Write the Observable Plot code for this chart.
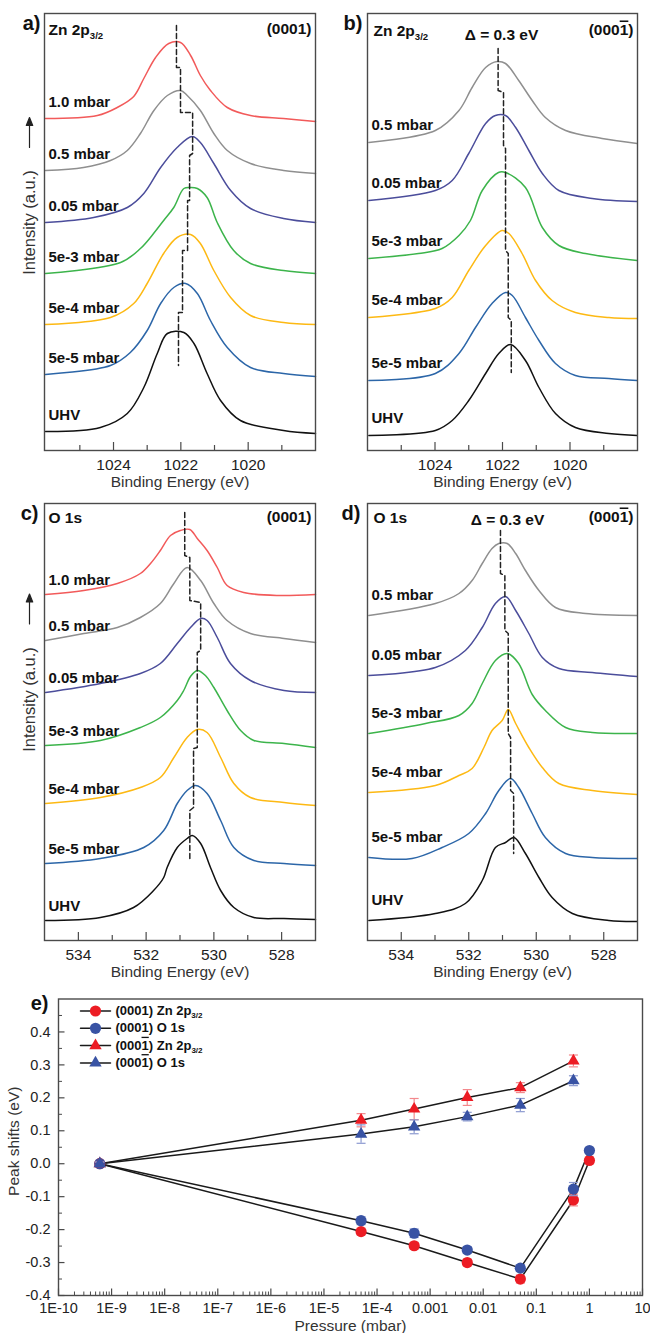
<!DOCTYPE html>
<html><head><meta charset="utf-8">
<script src="https://cdn.jsdelivr.net/npm/d3@7"></script>
<script src="https://cdn.jsdelivr.net/npm/@observablehq/plot@0.6"></script>
<style>
body{margin:0;background:#fff;}
#fig{position:relative;width:650px;height:1333px;overflow:hidden;background:#fff;}
#fig > svg{position:absolute;background:transparent;}
</style></head><body><div id="fig"></div>
<script>
// ---------------- DATA ----------------
const namesAll = ["1.0 mbar","0.5 mbar","0.05 mbar","5e-3 mbar","5e-4 mbar","5e-5 mbar","UHV"];
const namesMinus = ["0.5 mbar","0.05 mbar","5e-3 mbar","5e-4 mbar","5e-5 mbar","UHV"];
const colorsAll = ["#f25a5a","#8f8f8f","#4b4d9b","#3cb44b","#fdb913","#2c66a8","#111111"];
const colorsMinus = colorsAll.slice(1);

const znTicksMajor = [1024, 1022, 1020];
const znTicksMinor = [1025, 1023, 1021, 1019];
const oTicksMajor = [534, 532, 530, 528];
const oTicksMinor = [533, 531, 529];

// Panel a: Zn 2p3/2 (0001)  [binding energy eV, intensity a.u.]
const spectraA = [
 [[1026.02,332],[1024.48,335],[1023.89,343],[1023.40,354],[1023.10,372],[1022.75,393],[1022.36,407],[1022.01,408],[1021.71,395],[1021.42,375],[1021.12,360],[1020.62,343],[1019.93,335],[1018.95,332],[1018.0,329]],
 [[1026.02,280],[1024.89,283],[1024.09,290],[1023.59,300],[1023.20,317],[1022.80,340],[1022.40,355],[1022.01,360],[1021.81,355],[1021.42,340],[1021.02,317],[1020.62,300],[1019.93,287],[1018.95,280],[1018.0,277]],
 [[1026.02,228],[1024.59,233],[1023.59,243],[1023.10,257],[1022.60,283],[1022.11,303],[1021.66,314],[1021.42,308],[1021.02,287],[1020.52,260],[1019.93,242],[1018.95,232],[1018.0,228]],
 [[1026.02,177],[1023.79,188],[1023.20,202],[1022.81,217],[1022.51,230],[1022.21,243],[1021.91,262],[1021.71,263],[1021.51,262],[1021.22,253],[1020.92,228],[1020.43,200],[1019.93,187],[1018.95,180],[1018.0,177]],
 [[1026.02,126],[1024.09,133],[1023.40,147],[1023.00,167],[1022.51,197],[1022.11,213],[1021.71,216],[1021.42,207],[1021.02,180],[1020.52,153],[1019.93,135],[1018.95,128],[1018.0,126]],
 [[1026.02,76],[1024.09,85],[1023.50,98],[1023.00,120],[1022.60,147],[1022.21,163],[1021.86,167],[1021.51,157],[1021.12,130],[1020.62,103],[1019.93,83],[1018.95,77],[1018.0,74]],
 [[1026.02,19],[1024.39,23],[1023.59,37],[1023.10,63],[1022.70,97],[1022.40,117],[1021.91,118],[1021.61,107],[1021.22,77],[1020.82,50],[1020.23,30],[1018.95,20],[1018.0,17]]
];
const peakPathA = [[1022.13,425],[1022.13,383],[1022.01,383],[1022.01,338],[1021.65,338],[1021.65,297],[1021.74,295],[1021.74,250],[1021.80,250],[1021.80,200],[1021.95,200],[1021.95,138],[1022.07,138],[1022.07,85]];

// Panel b: Zn 2p3/2 (000-1)
const spectraB = [
 [[1025.96,308],[1023.99,320],[1023.29,340],[1022.90,363],[1022.50,383],[1022.16,389],[1021.91,387],[1021.52,370],[1021.12,350],[1020.73,333],[1020.13,320],[1019.05,312],[1018.01,307]],
 [[1025.96,250],[1023.99,260],[1023.49,270],[1023.0,297],[1022.50,327],[1022.21,335],[1021.91,335],[1021.61,323],[1021.22,300],[1020.82,277],[1020.33,260],[1019.34,252],[1018.01,249]],
 [[1025.96,192],[1024.49,197],[1023.79,202],[1023.29,215],[1022.95,230],[1022.60,260],[1022.12,278],[1021.91,278],[1021.32,263],[1020.82,223],[1020.33,205],[1019.54,197],[1018.01,190]],
 [[1025.96,133],[1023.99,142],[1023.49,153],[1023.0,180],[1022.50,205],[1022.01,220],[1021.81,217],[1021.42,197],[1021.02,170],[1020.53,150],[1019.84,138],[1018.85,133],[1018.01,132]],
 [[1025.96,70],[1023.99,77],[1023.29,97],[1022.80,123],[1022.31,147],[1021.91,158],[1021.71,155],[1021.32,133],[1020.92,110],[1020.43,87],[1019.84,75],[1018.85,72],[1018.01,70]],
 [[1025.96,15],[1023.99,20],[1023.49,30],[1023.0,50],[1022.50,77],[1022.11,97],[1021.76,106],[1021.32,90],[1020.92,63],[1020.43,37],[1019.84,23],[1018.85,17],[1018.01,15]]
];
const peakPathB = [[1022.13,402],[1022.13,360],[1021.97,358],[1021.97,305],[1021.91,302],[1021.91,200],[1021.83,197],[1021.83,133],[1021.74,130],[1021.74,78]];

// Panel c: O 1s (0001)
const spectraC = [
 [[534.97,346],[533.84,350],[532.85,357],[532.17,367],[531.87,377],[531.58,390],[531.28,405],[530.99,410],[530.71,411],[530.49,402],[530.20,390],[529.90,373],[529.61,355],[529.12,348],[528.13,345],[527.0,346]],
 [[534.97,300],[533.84,307],[532.85,313],[532.17,323],[531.58,337],[531.18,357],[530.79,373],[530.39,360],[530.0,337],[529.61,320],[528.92,307],[527.93,302],[527.0,298]],
 [[534.97,248],[533.35,257],[532.17,267],[531.58,277],[531.08,297],[530.69,313],[530.39,322],[530.20,320],[529.90,303],[529.51,277],[528.92,260],[527.93,250],[527.0,248]],
 [[534.97,195],[533.35,200],[532.17,213],[531.58,223],[531.08,240],[530.89,250],[530.69,264],[530.49,270],[530.25,265],[530.0,253],[529.61,230],[529.21,210],[528.82,200],[527.93,197],[527.0,193]],
 [[534.97,137],[533.35,143],[532.17,153],[531.58,163],[531.18,183],[530.79,203],[530.49,211],[530.20,208],[529.80,183],[529.41,157],[528.92,143],[527.93,138],[527.0,135]],
 [[534.97,77],[533.35,82],[532.07,93],[531.48,110],[531.08,137],[530.79,150],[530.54,155],[530.20,147],[529.80,120],[529.41,93],[528.82,80],[527.93,77],[527.0,75]],
 [[534.97,20],[533.35,23],[532.37,33],[531.78,50],[531.48,63],[531.38,73],[531.08,93],[530.79,102],[530.64,105],[530.39,97],[530.10,73],[529.80,50],[529.41,33],[528.82,23],[527.93,22],[527.0,21]]
];
const peakPathC = [[530.86,428],[530.86,385],[530.71,383],[530.71,340],[530.39,338],[530.39,290],[530.49,288],[530.49,193],[530.60,192],[530.60,133],[530.71,130],[530.71,80]];

// Panel d: O 1s (000-1)
const spectraD = [
 [[534.96,325],[532.99,337],[532.29,347],[531.90,360],[531.60,377],[531.31,392],[531.11,397],[530.86,397],[530.61,387],[530.32,370],[529.92,350],[529.43,333],[528.54,327],[527.01,325]],
 [[534.96,265],[532.99,273],[532.10,290],[531.60,313],[531.21,337],[530.91,344],[530.61,330],[530.22,307],[529.82,283],[529.33,272],[528.34,268],[527.01,264]],
 [[534.96,207],[533.28,217],[532.29,225],[531.90,237],[531.60,257],[531.21,280],[530.86,287],[530.52,277],[530.12,246],[529.73,230],[529.13,213],[528.34,208],[527.01,207]],
 [[534.96,148],[532.99,155],[532.29,165],[531.90,172],[531.55,193],[531.31,210],[531.01,220],[530.83,231],[530.61,217],[530.22,193],[529.82,173],[529.33,157],[528.34,150],[527.01,146]],
 [[534.96,83],[533.68,82],[532.79,93],[532.0,107],[531.50,127],[531.11,150],[530.76,162],[530.52,153],[530.12,127],[529.73,103],[529.13,87],[528.34,83],[527.01,82]],
 [[534.96,20],[532.99,27],[532.10,37],[531.60,60],[531.21,93],[530.91,98],[530.66,103],[530.32,87],[529.92,63],[529.53,43],[528.93,27],[527.85,20],[527.01,19]]
];
const peakPathD = [[531.06,410],[531.06,367],[530.93,365],[530.93,310],[530.83,307],[530.83,207],[530.76,203],[530.76,150],[530.67,147],[530.67,87]];

// Panel e: peak shifts vs pressure
const pressures = [6e-10, 5e-5, 5e-4, 5e-3, 5e-2, 0.5, 1];
const znPlus = [0, -0.206, -0.249, -0.300, -0.350, -0.110, 0.010];
const znPlusErr = [0.005, 0.010, 0.010, 0.010, 0.012, 0.018, 0.010];
const oPlus = [0, -0.173, -0.211, -0.262, -0.317, -0.077, 0.040];
const oPlusErr = [0.005, 0.012, 0.013, 0.010, 0.010, 0.020, 0.008];
const znMinus = [0, 0.132, 0.166, 0.201, 0.231, 0.312];
const znMinusErr = [0.005, 0.020, 0.032, 0.024, 0.015, 0.018];
const oMinus = [0, 0.090, 0.112, 0.143, 0.178, 0.252];
const oMinusErr = [0.005, 0.028, 0.021, 0.013, 0.020, 0.015];
const legendLabels = ["(0001) Zn 2p3/2", "(0001) O 1s", "(000\u0031\u0304) Zn 2p3/2", "(000\u0031\u0304) O 1s"];
const decades = [1e-10,1e-9,1e-8,1e-7,1e-6,1e-5,1e-4,1e-3,1e-2,1e-1,1,10];
const decadeLabels = ["1E-10","1E-9","1E-8","1E-7","1E-6","1E-5","1E-4","0.001","0.01","0.1","1","10"];
const shiftTicks = [-0.4,-0.3,-0.2,-0.1,0,0.1,0.2,0.3,0.4];

// ---------------- DRAWING ----------------
const FONT = '"Liberation Sans", Arial, Helvetica, sans-serif';
const fig = document.getElementById("fig");
const AX = "#4a4a4a";
function place(svg, left, top){ svg.style.left = left+"px"; svg.style.top = top+"px"; fig.appendChild(svg); }

const arrowUp = {draw(ctx, l){ ctx.moveTo(0,0); ctx.lineTo(0,-l+5); ctx.moveTo(0,-l); ctx.lineTo(-3.2,-l+8); ctx.lineTo(3.2,-l+8); ctx.closePath(); }};
const segment = {draw(ctx, l){ ctx.moveTo(0,0); ctx.lineTo(0,-l); }};
const capSym = {draw(ctx, size){ const w = Math.sqrt(size/Math.PI); ctx.moveTo(-w,0); ctx.lineTo(w,0); }};
const T = {lineAnchor: "middle"};

function spectra(o){
  const H = 437;
  const marks = [
    Plot.tickX(o.minor, {x: d=>d, insetTop: H-5, stroke: AX, strokeWidth: 1.2}),
    Plot.tickX(o.major, {x: d=>d, insetTop: H-8, stroke: AX, strokeWidth: 1.2}),
    Plot.axisX(o.major, {tickSize: 0, tickPadding: 8, fontSize: 15.5, color: "#222", tickFormat: d => String(d)}),
    Plot.text(["Binding Energy (eV)"], {...T, text: d=>d, frameAnchor: "bottom", textAnchor: "middle", dy: 32, fontSize: 15.5, fill: "#333"})
  ];
  o.curves.forEach((pts, i) => marks.push(Plot.line(pts, {x: d=>d[0], y: d=>d[1], stroke: o.colors[i], strokeWidth: 1.5, curve: "catmull-rom"})));
  marks.push(Plot.line(o.dash, {x: d=>d[0], y: d=>d[1], stroke: "#222", strokeWidth: 1.5, strokeDasharray: "5,3"}));
  marks.push(Plot.text(o.curves, {...T, x: () => o.domain[0], y: pts => pts[0][1], text: (pts, i) => o.names[i], dx: 4, dy: o.labelDy, textAnchor: "start", fontWeight: "bold", fontSize: 15, fill: "#111"}));
  marks.push(Plot.text([o.letter], {...T, text: d=>d, frameAnchor: "top-left", dx: o.letterDx, dy: 10, textAnchor: "end", fontSize: 20, fontWeight: "bold", fill: "#111"}));
  marks.push(Plot.text([o.core], {...T, text: d=>d, frameAnchor: "top-left", dx: o.coreDx, dy: o.coreDy, textAnchor: "start", fontSize: 15.5, fontWeight: "bold", fill: "#111"}));
  marks.push(Plot.text([o.face], {...T, text: d=>d, frameAnchor: "top-right", dx: -4, dy: o.coreDy - 1, textAnchor: "end", fontSize: 15.5, fontWeight: "bold", fill: "#111"}));
  if (o.delta) marks.push(Plot.text([o.delta], {...T, text: d=>d, frameAnchor: "top", textAnchor: "middle", dx: o.deltaDx, dy: o.deltaDy, fontSize: 15.5, fontWeight: "bold", fill: "#111"}));
  if (o.ylabel) {
    marks.push(Plot.text(["Intensity (a.u.)"], {...T, text: d=>d, frameAnchor: "left", textAnchor: "middle", rotate: -90, dx: -15, dy: o.ylabelDy, fontSize: 16.5, fill: "#333"}));
    marks.push(Plot.vector([0], {frameAnchor: "left", dx: -15, dy: o.arrowDy, length: 30, anchor: "middle", shape: arrowUp, stroke: "#222", fill: "#222", strokeWidth: 1.2}));
  }
  marks.push(Plot.frame({stroke: AX, strokeWidth: 1.4}));
  return Plot.plot({
    width: 325, height: 500, marginLeft: o.ml, marginRight: o.mr, marginTop: 13, marginBottom: 50,
    x: {domain: o.domain, label: null}, y: {domain: [0, 437], axis: null, label: null},
    style: {fontFamily: FONT, background: "transparent", overflow: "visible"},
    marks
  });
}

place(spectra({curves: spectraA, names: namesAll, colors: colorsAll, dash: peakPathA, domain: [1026.05, 1018], major: znTicksMajor, minor: znTicksMinor,
  ml: 44, mr: 10, letter: "a)", letterDx: -4, core: "Zn 2p3/2", coreDx: 4, coreDy: 17, face: "(0001)", labelDy: -16, ylabel: true, ylabelDy: -9.5, arrowDy: -99.5}), 0, 0);
place(spectra({curves: spectraB, names: namesMinus, colors: colorsMinus, dash: peakPathB, domain: [1026.0, 1018], major: znTicksMajor, minor: znTicksMinor,
  ml: 42, mr: 13, letter: "b)", letterDx: -5, core: "Zn 2p3/2", coreDx: 6, coreDy: 18, face: "(000\u0031\u0304)", delta: "\u0394 = 0.3 eV", deltaDx: -1, deltaDy: 22, labelDy: -17}), 325, 0);
place(spectra({curves: spectraC, names: namesAll, colors: colorsAll, dash: peakPathC, domain: [535, 527], major: oTicksMajor, minor: oTicksMinor,
  ml: 44, mr: 10, letter: "c)", letterDx: -6, core: "O 1s", coreDx: 4, coreDy: 15, face: "(0001)", labelDy: -14, ylabel: true, ylabelDy: -22.5, arrowDy: -113}), 0, 490);
place(spectra({curves: spectraD, names: namesMinus, colors: colorsMinus, dash: peakPathD, domain: [535, 527], major: oTicksMajor, minor: oTicksMinor,
  ml: 42, mr: 13, letter: "d)", letterDx: -7, core: "O 1s", coreDx: 6, coreDy: 15, face: "(000\u0031\u0304)", delta: "\u0394 = 0.3 eV", deltaDx: 5, deltaDy: 17, labelDy: -20}), 325, 490);

// Panel e
const RED = "#ec1c24", BLUE = "#3953a4", RED_E = "#f3888c", BLUE_E = "#8c9ad0";
const series = [
  {x: pressures, y: znPlus, e: znPlusErr, fill: RED, err: RED_E, symbol: "circle", r: 5.6},
  {x: pressures, y: oPlus, e: oPlusErr, fill: BLUE, err: BLUE_E, symbol: "circle", r: 5.6},
  {x: pressures.slice(0, 6), y: znMinus, e: znMinusErr, fill: RED, err: RED_E, symbol: "triangle", r: 4.6},
  {x: pressures.slice(0, 6), y: oMinus, e: oMinusErr, fill: BLUE, err: BLUE_E, symbol: "triangle", r: 4.6}
];
const rowsOf = s => s.y.map((v, i) => ({p: s.x[i], v, e: s.e[i]}));
const FW = 584, FH = 296.5;
const minorDec = [];
for (let k = -10; k < 1; k++) for (let m = 2; m <= 9; m++) minorDec.push(m * Math.pow(10, k));
const minorShift = d3.range(-0.35, 0.46, 0.1);
const eMarks = [
  Plot.tickX(minorDec, {x: d=>d, insetTop: FH-3.5, stroke: AX, strokeWidth: 1}),
  Plot.tickX(decades, {x: d=>d, insetTop: FH-6.5, stroke: AX, strokeWidth: 1.2}),
  Plot.tickY(minorShift, {y: d=>d, insetRight: FW-4, stroke: AX, strokeWidth: 1}),
  Plot.tickY(shiftTicks, {y: d=>d, insetRight: FW-6.5, stroke: AX, strokeWidth: 1.2}),
  Plot.axisX(decades, {tickSize: 0, tickPadding: 7, fontSize: 14.5, color: "#222", label: null, tickFormat: d => decadeLabels[Math.round(Math.log10(d)) + 10]}),
  Plot.axisY(shiftTicks, {tickSize: 0, tickPadding: 8, fontSize: 14.5, color: "#222", label: null, tickFormat: d => d.toFixed(1)}),
  Plot.text(["Pressure (mbar)"], {...T, text: d=>d, frameAnchor: "bottom", textAnchor: "middle", dy: 31, fontSize: 15.5, fill: "#333"}),
  Plot.text(["Peak shifts (eV)"], {...T, text: d=>d, frameAnchor: "left", textAnchor: "middle", rotate: -90, dx: -44, dy: -6, fontSize: 15.5, fill: "#333"}),
  Plot.text(["e)"], {...T, text: d=>d, frameAnchor: "top-left", dx: -10, dy: 5, textAnchor: "end", fontSize: 20, fontWeight: "bold", fill: "#111"})
];
series.forEach(s => eMarks.push(Plot.line(rowsOf(s), {x: "p", y: "v", stroke: "#1a1a1a", strokeWidth: 1.5})));
series.forEach(s => {
  const rows = rowsOf(s);
  eMarks.push(Plot.ruleX(rows, {x: "p", y1: d => d.v - d.e, y2: d => d.v + d.e, stroke: s.err, strokeWidth: 1.2}));
  eMarks.push(Plot.dot(rows, {x: "p", y: d => d.v + d.e, symbol: capSym, r: 4.5, stroke: s.err, strokeWidth: 1.2}));
  eMarks.push(Plot.dot(rows, {x: "p", y: d => d.v - d.e, symbol: capSym, r: 4.5, stroke: s.err, strokeWidth: 1.2}));
  eMarks.push(Plot.dot(rows, {x: "p", y: "v", symbol: s.symbol, r: s.r, fill: s.fill}));
});
legendLabels.forEach((lab, i) => {
  const dy = 12 + 17.3 * i, s = series[i];
  eMarks.push(Plot.vector([0], {frameAnchor: "top-left", dx: 37, dy, length: 30, rotate: 90, anchor: "middle", shape: segment, stroke: "#1a1a1a", strokeWidth: 1.5}));
  eMarks.push(Plot.dot([0], {frameAnchor: "top-left", dx: 37, dy, symbol: s.symbol, r: s.r, fill: s.fill}));
  eMarks.push(Plot.text([lab], {...T, text: d=>d, frameAnchor: "top-left", dx: 57, dy, textAnchor: "start", fontSize: 13, fontWeight: "bold", fill: "#111"}));
});
eMarks.push(Plot.frame({stroke: AX, strokeWidth: 1.4}));
place(Plot.plot({
  width: 650, height: 348, marginLeft: 58, marginRight: 8, marginTop: 13.5, marginBottom: 38,
  x: {type: "log", domain: [1e-10, 10], label: null}, y: {domain: [-0.4, 0.5], label: null},
  style: {fontFamily: FONT, background: "transparent", overflow: "visible"},
  marks: eMarks
}), 0, 985);

// rich text: subscript "3/2" and overbar on the last "1" of (0001̄)
const NS = "http://www.w3.org/2000/svg";
function span(t, s, attrs){ const e = document.createElementNS(NS, "tspan"); e.textContent = s; for (const k in attrs) e.setAttribute(k, attrs[k]); t.appendChild(e); return e; }
fig.querySelectorAll("text").forEach(t => {
  const s = t.textContent;
  if (!s.includes("2p3/2") && !s.includes("1\u0304")) return;
  t.textContent = "";
  const bar = s.indexOf("1\u0304");
  let rest = s;
  if (bar >= 0) {
    span(t, s.slice(0, bar));
    span(t, "1", {style: "text-decoration: overline"});
    rest = s.slice(bar + 2);
  }
  const i = rest.indexOf("2p3/2");
  if (i >= 0) {
    span(t, rest.slice(0, i + 2));
    span(t, "3/2", {"font-size": "0.62em", dy: "0.35em"});
  } else if (rest) span(t, rest);
});
</script></body></html>
